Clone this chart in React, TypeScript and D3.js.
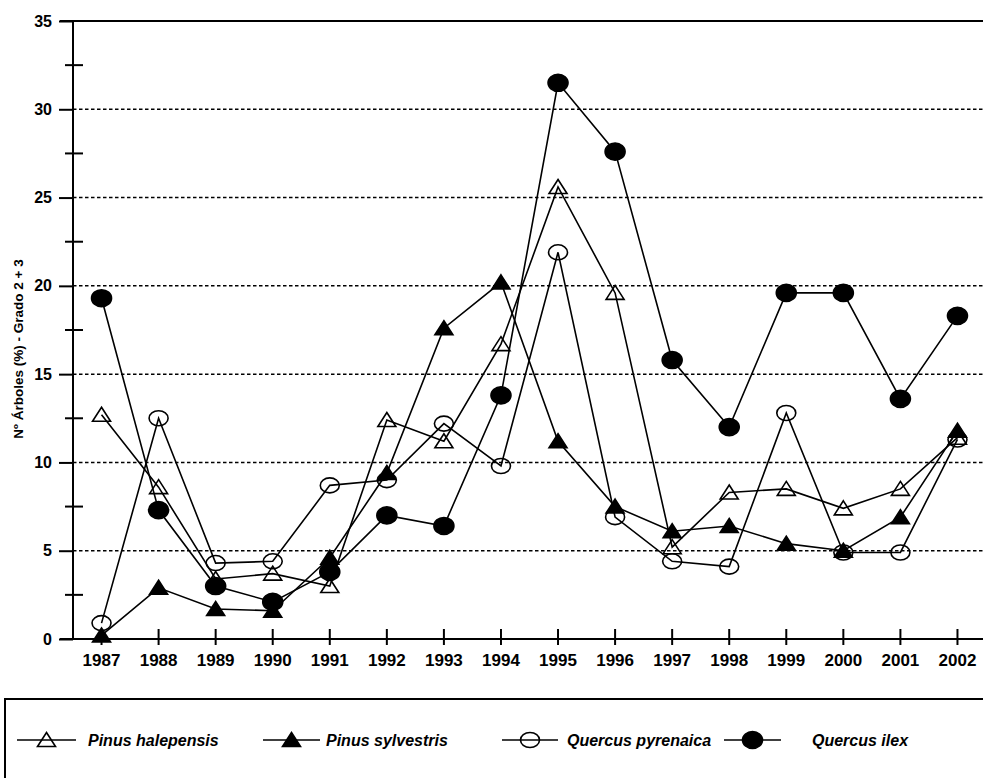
import * as d3 from "d3";
import { useRef, useEffect } from "react";

const years = ["1987", "1988", "1989", "1990", "1991", "1992", "1993", "1994", "1995", "1996", "1997", "1998", "1999", "2000", "2001", "2002"];
const pinusHalepensis = [12.7, 8.6, 3.4, 3.7, 3.0, 12.4, 11.2, 16.7, 25.6, 19.6, 5.2, 8.3, 8.5, 7.4, 8.5, 11.4];
const pinusSylvestris = [0.2, 2.9, 1.7, 1.6, 4.6, 9.4, 17.6, 20.2, 11.2, 7.5, 6.1, 6.4, 5.4, 5.0, 6.9, 11.8];
const quercusPyrenaica = [0.9, 12.5, 4.3, 4.4, 8.7, 9.0, 12.2, 9.8, 21.9, 6.9, 4.4, 4.1, 12.8, 4.9, 4.9, 11.3];
const quercusIlex = [19.3, 7.3, 3.0, 2.1, 3.8, 7.0, 6.4, 13.8, 31.5, 27.6, 15.8, 12.0, 19.6, 19.6, 13.6, 18.3];
const seriesNames = ["Pinus halepensis", "Pinus sylvestris", "Quercus pyrenaica", "Quercus ilex"];
const majorTicks = [0, 5, 10, 15, 20, 25, 30, 35];
const minorTicks = [2.5, 7.5, 12.5, 17.5, 22.5, 27.5, 32.5];
const yTitle = "Nº Árboles (%) - Grado 2 + 3";

type Marker = "triOpen" | "triFilled" | "circOpen" | "circFilled";
const markers: Marker[] = ["triOpen", "triFilled", "circOpen", "circFilled"];

const font = "'Liberation Sans', Arial, sans-serif";

function drawMarker(g: d3.Selection<SVGGElement, unknown, null, undefined>, kind: Marker, cx: number, cy: number) {
  if (kind === "triOpen" || kind === "triFilled") {
    g.append("path")
      .attr("d", `M${cx},${cy - 7.5}L${cx + 9},${cy + 6.5}L${cx - 9},${cy + 6.5}Z`)
      .attr("fill", kind === "triFilled" ? "#000" : "none")
      .attr("stroke", "#000")
      .attr("stroke-width", 1.6)
      .attr("stroke-linejoin", "miter");
  } else {
    g.append("ellipse")
      .attr("cx", cx)
      .attr("cy", cy)
      .attr("rx", kind === "circFilled" ? 10 : 9.5)
      .attr("ry", kind === "circFilled" ? 8.5 : 7.5)
      .attr("fill", kind === "circFilled" ? "#000" : "none")
      .attr("stroke", "#000")
      .attr("stroke-width", 1.6);
  }
}

export default function App() {
  const width = 983;
  const height = 778;
  const plotLeft = 73;
  const plotRight = 986;
  const plotTop = 21;
  const plotBottom = 639;

  const ref = useRef(null);
  useEffect((): void => {
    if (!ref.current) return;
    const svg = d3.select(ref.current);
    svg.selectAll("*").remove();

    const x = d3.scalePoint<string>().domain(years).range([plotLeft, plotRight]).padding(0.5);
    const y = d3.scaleLinear().domain([0, 35]).range([plotBottom, plotTop]);

    svg.append("rect").attr("width", width).attr("height", height).attr("fill", "#fff");

    // dashed grid
    svg.append("g")
      .selectAll("line")
      .data(majorTicks.filter((t) => t > 0 && t < 35))
      .join("line")
      .attr("x1", plotLeft)
      .attr("x2", width)
      .attr("y1", (d) => y(d))
      .attr("y2", (d) => y(d))
      .attr("stroke", "#000")
      .attr("stroke-width", 1.5)
      .attr("stroke-dasharray", "3.5,2.5");

    // top border and x axis line
    svg.append("line").attr("x1", 60).attr("x2", width).attr("y1", y(35)).attr("y2", y(35))
      .attr("stroke", "#000").attr("stroke-width", 2);
    svg.append("line").attr("x1", 60).attr("x2", width).attr("y1", y(0)).attr("y2", y(0))
      .attr("stroke", "#000").attr("stroke-width", 2);

    // y axis
    const yAxis = d3.axisLeft(y).tickValues(majorTicks).tickSize(14).tickPadding(7).tickFormat((d) => `${d}`);
    const ya = svg.append("g").attr("transform", `translate(${plotLeft},0)`).call(yAxis);
    ya.select(".domain").attr("stroke-width", 2).attr("d", `M0,${y(35)}V${y(0)}`);
    ya.selectAll(".tick line").attr("stroke-width", 2);
    ya.selectAll(".tick text")
      .attr("font-family", font)
      .attr("font-size", 16)
      .attr("font-weight", "bold")
      .attr("fill", "#000");

    svg.append("g")
      .selectAll("line")
      .data(minorTicks)
      .join("line")
      .attr("x1", plotLeft - 8)
      .attr("x2", plotLeft + 10)
      .attr("y1", (d) => y(d))
      .attr("y2", (d) => y(d))
      .attr("stroke", "#000")
      .attr("stroke-width", 2);

    // x axis ticks and labels
    const xg = svg.append("g");
    xg.selectAll("line")
      .data(years)
      .join("line")
      .attr("x1", (d) => x(d)!)
      .attr("x2", (d) => x(d)!)
      .attr("y1", plotBottom - 10)
      .attr("y2", plotBottom + 6)
      .attr("stroke", "#000")
      .attr("stroke-width", 2);
    xg.selectAll("text")
      .data(years)
      .join("text")
      .attr("x", (d) => x(d)!)
      .attr("y", 666)
      .attr("text-anchor", "middle")
      .attr("font-family", font)
      .attr("font-size", 17)
      .attr("font-weight", "bold")
      .text((d) => d);

    // y title
    svg.append("text")
      .attr("transform", `translate(23,349) rotate(-90)`)
      .attr("text-anchor", "middle")
      .attr("font-family", font)
      .attr("font-size", 13.5)
      .attr("font-weight", "bold")
      .text(yTitle);

    // series
    const allSeries = [pinusHalepensis, pinusSylvestris, quercusPyrenaica, quercusIlex];
    const line = d3.line<number>()
      .x((_, i) => x(years[i])!)
      .y((d) => y(d));

    allSeries.forEach((vals) => {
      svg.append("path")
        .attr("d", line(vals))
        .attr("fill", "none")
        .attr("stroke", "#000")
        .attr("stroke-width", 1.6);
    });
    allSeries.forEach((vals, si) => {
      const g = svg.append("g");
      vals.forEach((v, i) => drawMarker(g, markers[si], x(years[i])!, y(v)));
    });

    // legend
    svg.append("path")
      .attr("d", `M5,${height + 10}V699H${width + 5}`)
      .attr("fill", "none")
      .attr("stroke", "#000")
      .attr("stroke-width", 2);

    const legendLines = [[17, 76], [263, 320], [502, 558], [724, 781]];
    const legendText = [88, 326, 567, 812];
    const ly = 740;
    const lg = svg.append("g");
    seriesNames.forEach((name, i) => {
      const [a, b] = legendLines[i];
      lg.append("line").attr("x1", a).attr("x2", b).attr("y1", ly).attr("y2", ly)
        .attr("stroke", "#000").attr("stroke-width", 1.6);
      drawMarker(lg, markers[i], (a + b) / 2, ly);
      lg.append("text")
        .attr("x", legendText[i])
        .attr("y", ly + 6)
        .attr("font-family", font)
        .attr("font-size", 16)
        .attr("font-weight", "bold")
        .attr("font-style", "italic")
        .text(name);
    });
  }, []);

  return (
    <svg
      ref={ref}
      width={width}
      height={height}
      style={{ position: "absolute", left: 0, top: 0, display: "block" }}
    />
  );
}
